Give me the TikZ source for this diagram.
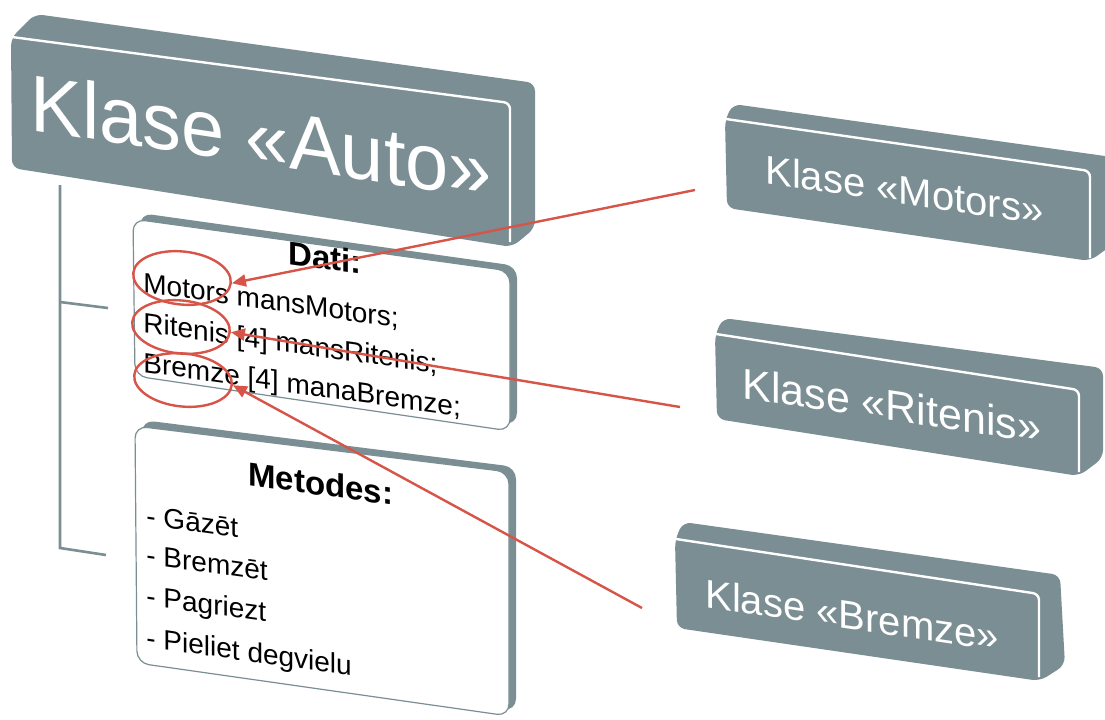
\documentclass[tikz,border=0pt]{standalone}
\usepackage{fontspec}
\setmainfont{Liberation Sans}
\usetikzlibrary{shapes,arrows.meta}
\definecolor{slate}{RGB}{122,142,148}
\definecolor{markred}{RGB}{214,84,72}

\begin{document}
\begin{tikzpicture}[x=0.5pt,y=-0.5pt,
  face/.style={fill=slate,rounded corners=4pt},
  rim/.style={draw=white,line width=1.2pt,rounded corners=3pt},
  panelback/.style={fill=slate,rounded corners=6pt},
  panel/.style={fill=white,draw=slate,line width=0.6pt,rounded corners=6pt},
  clstext/.style={text=white,inner sep=0pt,anchor=base west,yslant=-0.15},
  codetext/.style={text=black,inner sep=0pt,anchor=base west,yslant=-0.14,font=\fontsize{14}{17}\selectfont},
  headtext/.style={codetext,font=\bfseries\fontsize{16.5}{20}\selectfont},
  ring/.style={ellipse,draw=markred,line width=1.2pt,minimum width=49pt,minimum height=26.5pt,inner sep=0pt,rotate=-6},
  pointer/.style={draw=markred,line width=1.2pt,-{Triangle[length=7pt,width=6pt]}},
  tree/.style={draw=slate,line width=1.3pt}]
\useasboundingbox (0,0) rectangle (1105,719);
\clip (0,0) rectangle (1105,719);

\fill[face] (11,38) -- (35,14) -- (535,83) -- (535,228) -- (512,247) -- (12,168) -- cycle;
\draw[rim] (12,37) -- (510,103) -- (510,242);
\node[clstext,font=\fontsize{40}{48}\selectfont,xscale=0.97] (auto) at (30,130) {Klase «Auto»};

\fill[face] (725,120) -- (733,104) -- (1112,157) -- (1112,245) -- (1090,261) -- (727,208) -- cycle;
\draw[rim] (726,119) -- (1090,171) -- (1090,258);
\node[clstext,font=\fontsize{20}{24}\selectfont] (motors) at (765,183) {Klase «Motors»};

\fill[face] (715,335) -- (723,318) -- (1103,368) -- (1103,458) -- (1079,476) -- (717,419) -- cycle;
\draw[rim] (716,334) -- (1079,390) -- (1079,472);
\node[clstext,font=\fontsize{21.5}{26}\selectfont] (ritenis) at (742,398) {Klase «Ritenis»};

\fill[face] (675,540) -- (683,522) -- (1060,575) -- (1065,665) -- (1040,681) -- (677,628) -- cycle;
\draw[rim] (676,539) -- (1039,594) -- (1039,677);
\node[clstext,font=\fontsize{20}{24}\selectfont] (bremze) at (705,607) {Klase «Bremze»};

\coordinate (brTop) at (60,185);
\coordinate (brMid) at (60,302);
\coordinate (brMidEnd) at (108,308);
\coordinate (brLow) at (60,548);
\coordinate (brLowEnd) at (106,555);
\draw[tree] (brTop) -- (brLow) -- (brLowEnd);
\draw[tree] (brMid) -- (brMidEnd);

\fill[panelback] (140,213) -- (517,266) -- (517,425) -- (142,370) -- cycle;
\draw[panel] (133,219) -- (510,271) -- (510,431) -- (135,376) -- cycle;
\node[headtext] (dati) at (288,264) {Dati:};
\node[codetext] (lnMotors) at (143,292) {Motors mansMotors;};
\node[codetext] (lnRitenis) at (143,332) {Ritenis [4] mansRitenis;};
\node[codetext] (lnBremze) at (143,372) {Bremze [4] manaBremze;};

\fill[panelback] (142,420) -- (516,467) -- (516,711) -- (144,658) -- cycle;
\draw[panel] (135,426) -- (509,472) -- (509,716) -- (137,663) -- cycle;
\node[headtext] (metodes) at (248,485) {Metodes:};
\node[codetext] (mGazet) at (146,525) {- Gāzēt};
\node[codetext] (mBremzet) at (146,564) {- Bremzēt};
\node[codetext] (mPagriezt) at (146,605) {- Pagriezt};
\node[codetext] (mPieliet) at (146,647) {- Pieliet degvielu};

\node[ring] (ringMotors) at (182,278) {};
\node[ring] (ringRitenis) at (181,327) {};
\node[ring] (ringBremze) at (183,380) {};

\coordinate (fromMotors) at (695,190);
\coordinate (fromRitenis) at (680,407);
\coordinate (fromBremze) at (642,608);
\draw[pointer] (fromMotors) -- (ringMotors.east);
\draw[pointer] (fromRitenis) -- (ringRitenis.east);
\draw[pointer] (fromBremze) -- (ringBremze.east);
\end{tikzpicture}
\end{document}
